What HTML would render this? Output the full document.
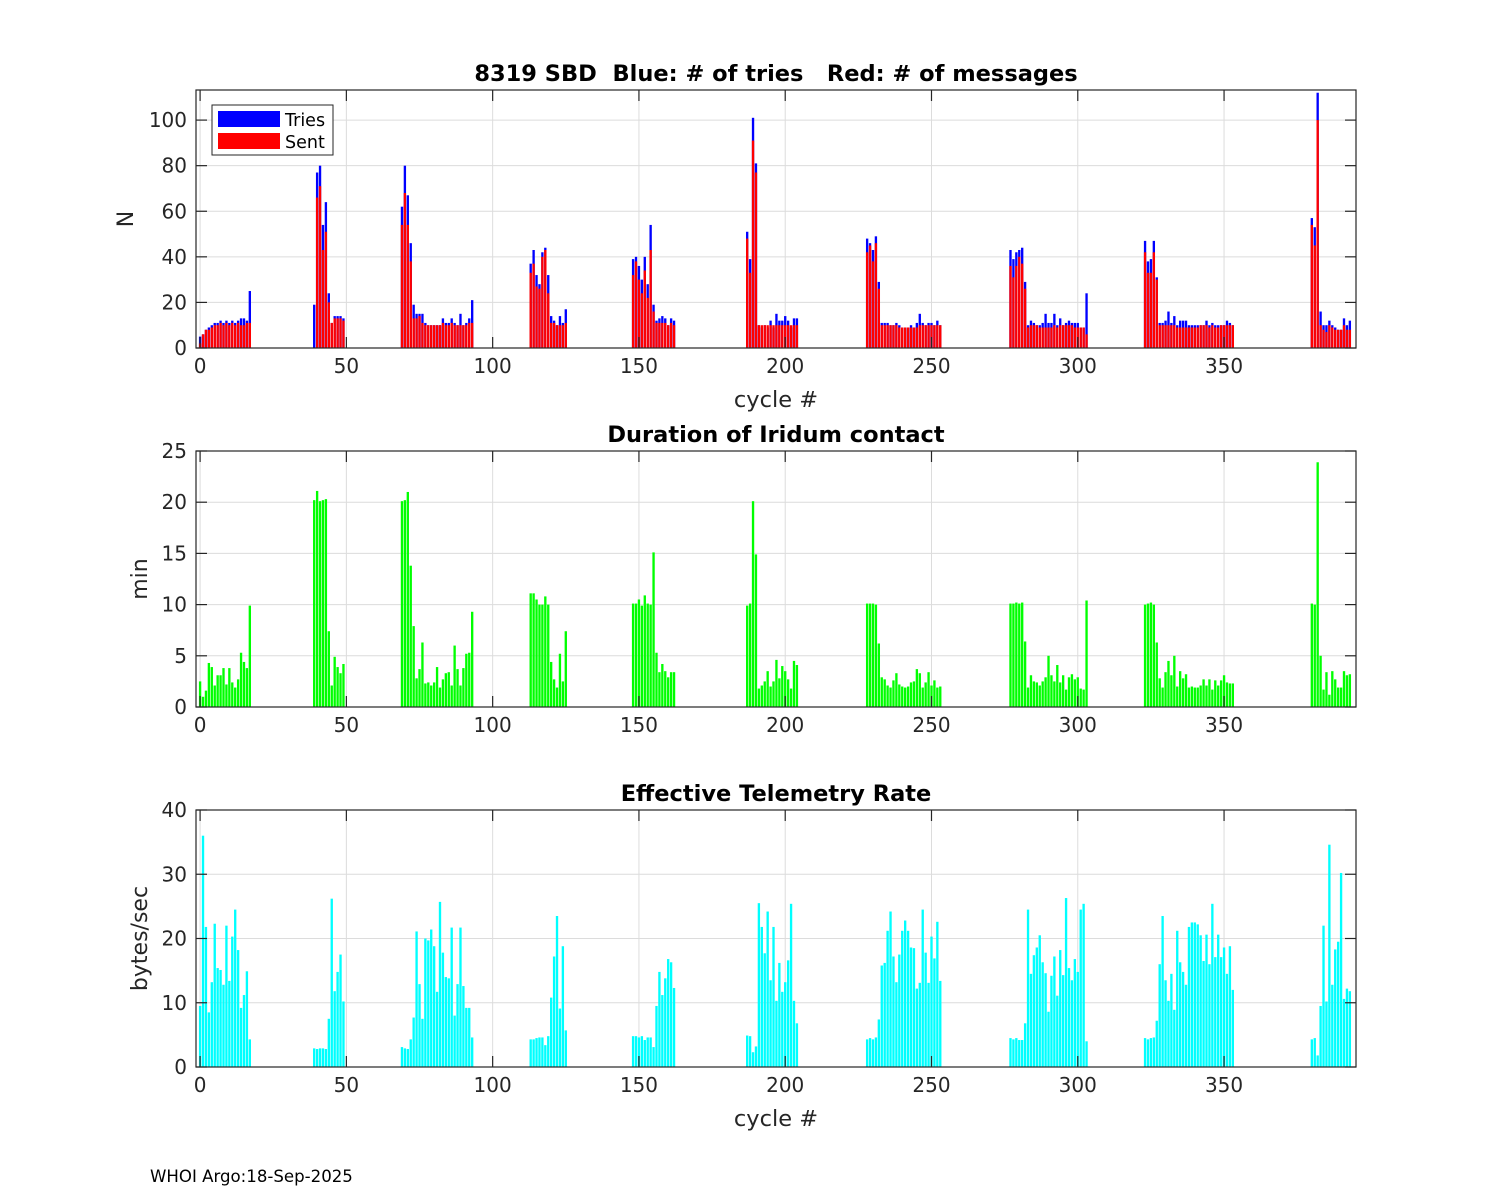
<!DOCTYPE html>
<html><head><meta charset="utf-8"><style>
html,body{margin:0;padding:0;background:#fff;}
svg{display:block;font-family:"DejaVu Sans","Liberation Sans",sans-serif;}
text{white-space:pre;}
</style></head><body>
<svg id="chart" width="1500" height="1200" viewBox="0 0 1500 1200" xmlns="http://www.w3.org/2000/svg">
<rect x="0" y="0" width="1500" height="1200" fill="#fff"/>
<text x="150" y="1182" font-size="16.6" fill="#000">WHOI Argo:18-Sep-2025</text>
</svg>
<script>
const groupStart = [0,39,69,113,148,187,228,277,323,380];
const groupLen = [18,11,25,13,15,18,26,27,31,14];
const tries = [
5,6,8,9,10,11,11,12,11,12,11,12,11,12,13,13,12,25,
19,77,80,54,64,24,11,14,14,14,13,
62,80,67,46,19,15,15,15,11,10,10,10,10,10,13,11,11,13,11,10,15,10,11,13,21,
37,43,32,28,42,44,32,14,12,10,14,11,17,
39,40,36,30,40,28,54,19,12,13,14,13,10,13,12,
51,39,101,81,10,9,10,9,12,9,15,12,12,14,12,9,13,13,
48,46,43,49,29,11,11,11,10,10,11,10,9,9,9,10,9,11,15,11,10,11,11,10,12,10,
43,39,42,43,44,29,10,12,11,10,10,11,15,11,11,15,10,13,10,11,12,11,11,11,9,9,24,
47,38,39,47,31,11,11,12,16,11,14,10,12,12,12,10,10,10,10,10,10,12,10,11,10,10,10,10,12,11,10,
57,53,112,16,10,10,12,10,9,8,8,13,10,12];
const sent = [
2,6,8,8,9,10,10,11,10,11,10,11,10,11,10,10,11,11,
0,66,71,43,51,20,11,13,13,13,12,
54,68,54,38,13,13,14,11,10,10,10,10,10,10,11,10,10,11,10,10,10,10,10,11,11,
33,37,27,26,40,43,24,11,11,10,10,10,11,
32,38,30,24,34,22,43,16,11,11,11,11,10,11,10,
48,33,91,77,10,10,10,10,10,10,10,10,10,10,10,10,10,10,
42,45,38,46,26,10,10,10,10,10,10,9,9,9,9,9,9,9,10,10,10,10,10,10,10,10,
36,31,36,40,37,26,9,10,10,10,9,9,9,9,9,10,9,10,10,10,10,10,9,9,9,9,6,
42,33,33,42,30,10,10,10,10,10,10,9,9,9,9,9,9,9,9,10,10,10,9,10,9,9,10,10,10,10,10,
54,45,100,10,8,7,10,9,8,8,8,10,8,8];
const duration = [
2.5,1.0,1.6,4.3,3.9,2.1,3.1,3.1,3.8,2.2,3.8,2.4,1.9,2.7,5.3,4.4,3.8,9.9,
20.2,21.1,20.1,20.2,20.3,7.4,2.1,4.9,3.9,3.3,4.2,
20.1,20.2,21.0,13.8,7.9,2.8,3.7,6.3,2.3,2.4,2.1,2.4,3.9,1.9,2.7,3.3,3.4,2.1,6.0,3.7,2.1,3.8,5.2,5.3,9.3,
11.1,11.1,10.5,10.0,10.0,10.8,10.0,4.4,2.7,1.9,5.2,2.5,7.4,
10.1,10.1,10.5,9.9,10.9,10.1,10.0,15.1,5.3,3.4,4.2,3.5,2.9,3.4,3.4,
9.9,10.1,20.1,14.9,1.8,2.1,2.5,3.5,2.0,2.5,4.6,2.8,4.0,3.5,2.7,1.8,4.5,4.1,
10.1,10.1,10.1,10.0,6.2,2.9,2.7,2.1,1.9,2.6,3.3,2.2,2.0,1.9,2.0,2.4,2.5,3.7,3.3,1.9,2.4,3.4,2.1,2.6,1.9,2.0,
10.1,10.1,10.2,10.1,10.2,6.4,1.9,3.1,2.5,2.4,2.1,2.5,2.9,5.0,3.1,2.5,4.1,2.4,3.1,1.7,2.9,3.2,2.7,2.9,1.8,1.7,10.4,
10.0,10.1,10.2,10.0,6.3,2.8,1.9,3.4,4.5,3.1,5.0,2.0,3.5,2.8,3.2,1.9,2.0,1.9,1.9,2.1,2.7,2.1,2.7,1.7,2.6,2.1,2.6,3.1,2.4,2.3,2.3,
10.1,10.0,23.9,5.0,1.7,3.4,1.2,3.5,2.7,1.9,1.9,3.5,3.1,3.2];
const rate = [
9.5,36.0,21.8,8.5,13.2,22.3,15.4,15.1,12.8,22.0,13.4,20.3,24.5,18.2,9.2,11.2,14.9,4.3,
2.9,2.8,2.9,2.9,2.8,7.5,26.2,11.8,14.8,17.5,10.2,
3.1,2.9,2.8,4.3,7.7,21.1,12.9,7.5,20.0,19.7,21.4,18.8,11.7,25.7,17.8,14.0,13.8,21.7,8.0,12.9,21.7,12.6,9.2,9.2,4.6,
4.3,4.3,4.5,4.6,4.6,3.4,4.8,10.8,17.2,23.5,9.1,18.8,5.7,
4.8,4.8,4.6,4.8,4.2,4.6,4.6,3.1,9.5,14.8,11.2,13.8,16.8,16.3,12.3,
4.9,4.8,2.3,3.2,25.5,21.8,17.7,24.2,13.5,21.8,10.3,16.2,11.7,13.2,16.6,25.4,10.3,6.8,
4.3,4.5,4.3,4.6,7.4,15.8,16.2,21.2,24.2,17.2,13.2,17.5,21.2,22.8,21.2,18.6,18.5,12.2,13.1,24.5,17.8,13.1,20.3,16.9,22.6,13.4,
4.5,4.3,4.5,4.2,4.2,6.8,24.5,14.5,17.4,18.6,20.5,16.3,14.6,8.6,14.2,17.2,11.1,18.2,14.3,26.3,15.4,13.5,16.8,14.8,24.5,25.4,4.0,
4.5,4.3,4.5,4.6,7.2,16.0,23.5,13.5,10.3,14.5,8.9,21.2,16.3,14.8,12.8,21.8,22.5,22.5,22.2,20.5,16.5,20.6,16.0,25.4,17.1,20.6,17.1,18.6,14.5,18.8,12.0,
4.3,4.5,1.8,9.5,22.0,10.2,34.6,12.8,18.3,19.5,30.2,10.6,12.2,11.8];
const xTicks = [0,50,100,150,200,250,300,350];
const nTicks = [0,20,40,60,80,100];
const minTicks = [0,5,10,15,20,25];
const rateTicks = [0,10,20,30,40];

const cycles = [];
groupStart.forEach((s,g)=>{ for(let k=0;k<groupLen[g];k++) cycles.push(s+k); });

const NS = "http://www.w3.org/2000/svg";
const svg = document.getElementById('chart');
const X0 = 196, X1 = 1356, XMIN = -1.4, XMAX = 395.1;
const xs = v => X0 + (v - XMIN) / (XMAX - XMIN) * (X1 - X0);
const BW = 0.8 * (X1 - X0) / (XMAX - XMIN);

function mk(tag, attrs, parent){
  const e = document.createElementNS(NS, tag);
  for (const k in attrs) e.setAttribute(k, attrs[k]);
  (parent || svg).appendChild(e);
  return e;
}

function axes(name, top, bot, ymax, yTicks, title, ylabel, ylabelX, showXlabel){
  const g = mk('g', {});
  
  
  const ys = v => bot - v / ymax * (bot - top);
  mk('rect', {x:X0, y:top, width:X1-X0, height:bot-top, fill:'#fff'}, g);
  const grid = mk('g', {stroke:'#dcdcdc', 'stroke-width':1}, g);
  
  
  xTicks.forEach(t => mk('line', {x1:xs(t), x2:xs(t), y1:top, y2:bot}, grid));
  yTicks.forEach(t => mk('line', {x1:X0, x2:X1, y1:ys(t), y2:ys(t)}, grid));
  const marks = mk('g', {}, g);
  
  
  const frame = mk('g', {stroke:'#262626', 'stroke-width':1.2, fill:'none'}, g);
  mk('rect', {x:X0, y:top, width:X1-X0, height:bot-top}, frame);
  xTicks.forEach(t => {
    mk('line', {x1:xs(t), x2:xs(t), y1:bot, y2:bot-11}, frame);
    mk('line', {x1:xs(t), x2:xs(t), y1:top, y2:top+11}, frame);
    const tx = mk('text', {x:xs(t), y:bot+25, 'text-anchor':'middle', 'font-size':20, fill:'#262626'}, g);
    tx.textContent = t;
    
    
  });
  yTicks.forEach(t => {
    mk('line', {x1:X0, x2:X0+11, y1:ys(t), y2:ys(t)}, frame);
    mk('line', {x1:X1, x2:X1-11, y1:ys(t), y2:ys(t)}, frame);
    const tx = mk('text', {x:X0-9, y:ys(t)+7, 'text-anchor':'end', 'font-size':20, fill:'#262626'}, g);
    tx.textContent = t;
    
    
  });
  const tt = mk('text', {x:(X0+X1)/2, y:top-9, 'text-anchor':'middle', 'font-size':22.5, 'font-weight':'bold', fill:'#000'}, g);
  tt.textContent = title;
  
  
  const yl = mk('text', {x:ylabelX, y:(top+bot)/2, 'text-anchor':'middle', 'font-size':22, fill:'#262626', transform:`rotate(-90 ${ylabelX} ${(top+bot)/2})`}, g);
  yl.textContent = ylabel;
  
  
  if (showXlabel){
    const xl = mk('text', {x:(X0+X1)/2, y:bot+59, 'text-anchor':'middle', 'font-size':22.5, fill:'#262626'}, g);
    xl.textContent = 'cycle #';
    
    
  }
  svg.appendChild(frame);
  return {ys, marks, bot};
}

function bars(ax, values, color, nm){
  values.forEach((v,i) => {
    if (!v || cycles[i] === undefined) return;
    const y = ax.ys(v);
    const r = mk('rect', {x:xs(cycles[i]) - BW/2, y:y, width:BW, height:ax.bot - y, fill:color}, ax.marks);
    
    
  });
}

const a1 = axes('tries-sent-panel', 90, 348, 113.2, nTicks, '8319 SBD  Blue: # of tries   Red: # of messages', 'N', 133, true);
bars(a1, tries, '#0000ff', 'tries-bar');
bars(a1, sent, '#ff0000', 'sent-bar');
const a2 = axes('duration-panel', 451, 707, 25, minTicks, 'Duration of Iridum contact', 'min', 147, false);
bars(a2, duration, '#00ff00', 'duration-bar');
const a3 = axes('rate-panel', 810, 1067, 40, rateTicks, 'Effective Telemetry Rate', 'bytes/sec', 147, true);
bars(a3, rate, '#00ffff', 'rate-bar');

const lg = mk('g', {});


mk('rect', {x:212, y:105, width:121, height:50, fill:'#fff', stroke:'#262626', 'stroke-width':1}, lg);
const e1 = mk('rect', {x:218, y:111, width:62, height:16, fill:'#0000ff'}, lg);


const t1 = mk('text', {x:285, y:126, 'font-size':17.5, fill:'#000'}, lg);
t1.textContent = 'Tries';


const e2 = mk('rect', {x:218, y:133, width:62, height:16, fill:'#ff0000'}, lg);


const t2 = mk('text', {x:285, y:148, 'font-size':17.5, fill:'#000'}, lg);
t2.textContent = 'Sent';


</script>
</body></html>
